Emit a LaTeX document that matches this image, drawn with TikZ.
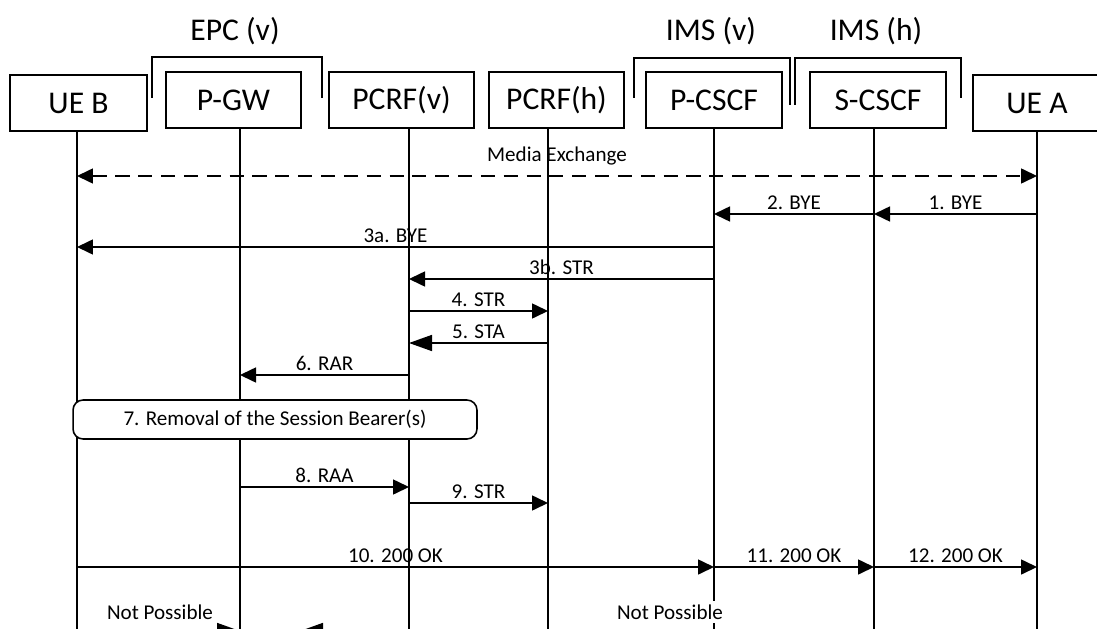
\documentclass[tikz,border=0pt]{standalone}
\usepackage{fontspec}
\setmainfont{Carlito}
\usetikzlibrary{arrows.meta,positioning}

\begin{document}
\begin{tikzpicture}[
    x=0.02cm, y=-0.02cm,
    entity/.style={rectangle, draw, line width=0.9pt, minimum width=#1, minimum height=1.12cm, font=\fontsize{18}{21}\selectfont},
    group/.style={font=\fontsize{18}{21}\selectfont},
    life/.style={line width=0.9pt},
    msg/.style={line width=0.9pt, -{Triangle[length=0.32cm,width=0.3cm]}},
    bigmsg/.style={line width=0.9pt, -{Triangle[length=0.46cm,width=0.32cm]}},
    lbl/.style={font=\fontsize{12}{14}\selectfont, inner sep=2pt},
    procedure/.style={rectangle, draw, rounded corners=0.2cm, line width=0.9pt, fill=white, minimum width=8.08cm, minimum height=0.78cm, font=\fontsize{12}{14}\selectfont}
]
    \path[use as bounding box, clip] (0,0) rectangle (1097,628);

    % Entities
    \node[entity=2.74cm] (ueb) at (78.5,103) {UE B};
    \node[entity=2.7cm] (pgw) at (233.5,100) {P-GW};
    \node[entity=2.9cm] (pcrfv) at (401.5,100) {PCRF(v)};
    \node[entity=2.7cm] (pcrfh) at (556.5,100) {PCRF(h)};
    \node[entity=2.72cm] (pcscf) at (714,100) {P-CSCF};
    \node[entity=2.72cm] (scscf) at (878,100) {S-CSCF};
    \node[entity=2.56cm] (uea) at (1037,103) {UE A};

    % Network groups
    \node[group] (epc) at (235,31) {EPC (v)};
    \node[group] (imsv) at (711,31) {IMS (v)};
    \node[group] (imsh) at (876,31) {IMS (h)};
    \draw[life] (152,98) |- (322,57) -- (322,98);
    \draw[life] (634,98) |- (790,58) -- (790,105);
    \draw[life] (795,105) |- (961,58) -- (961,98);

    % Lifelines
    \foreach \n/\x in {ueb/77,pgw/240,pcrfv/409,pcrfh/548,pcscf/714,scscf/874,uea/1037}
        \coordinate (\n-l) at (\x,640);
    \foreach \n in {ueb,pgw,pcrfv,pcrfh,pcscf,scscf,uea}
        \draw[life] (\n.south -| \n-l) -- (\n-l);

    % Messages
    \draw[life, dashed, dash pattern=on 8pt off 5pt, {Triangle[length=0.32cm,width=0.3cm]}-{Triangle[length=0.32cm,width=0.3cm]}]
        (ueb-l |- 0,176) -- node[above, lbl, yshift=4pt] {Media Exchange} (uea-l |- 0,176);
    \draw[msg] (uea-l |- 0,214) -- node[above, lbl] {1. BYE} (scscf-l |- 0,214);
    \draw[msg] (scscf-l |- 0,214) -- node[above, lbl] {2. BYE} (pcscf-l |- 0,214);
    \draw[msg] (pcscf-l |- 0,247) -- node[above, lbl] {3a. BYE} (ueb-l |- 0,247);
    \draw[msg] (pcscf-l |- 0,279) -- node[above, lbl] {3b. STR} (pcrfv-l |- 0,279);
    \draw[msg] (pcrfv-l |- 0,311) -- node[above, lbl] {4. STR} (pcrfh-l |- 0,311);
    \draw[bigmsg] (pcrfh-l |- 0,343) -- node[above, lbl] {5. STA} (pcrfv-l |- 0,343);
    \draw[msg] (pcrfv-l |- 0,375) -- node[above, lbl] {6. RAR} (pgw-l |- 0,375);

    \node[procedure] (removal) at (275,419.5) {7. Removal of the Session Bearer(s)};

    \draw[msg] (pgw-l |- 0,487) -- node[above, lbl] {8. RAA} (pcrfv-l |- 0,487);
    \draw[msg] (pcrfv-l |- 0,503) -- node[above, lbl] {9. STR} (pcrfh-l |- 0,503);
    \draw[msg] (ueb-l |- 0,567) -- node[above, lbl] {10. 200 OK} (pcscf-l |- 0,567);
    \draw[msg] (pcscf-l |- 0,567) -- node[above, lbl] {11. 200 OK} (scscf-l |- 0,567);
    \draw[msg] (scscf-l |- 0,567) -- node[above, lbl] {12. 200 OK} (uea-l |- 0,567);

    % Not possible
    \node[lbl, fill=white] (np1) at (160,612) {Not Possible};
    \node[lbl, fill=white] (np2) at (670,612) {Not Possible};
    \coordinate (stop) at (300,631);
    \draw[bigmsg] (ueb-l |- 0,631) -- (pgw-l |- 0,631);
    \draw[bigmsg] (pcrfv-l |- 0,631) -- (stop);
\end{tikzpicture}
\end{document}
